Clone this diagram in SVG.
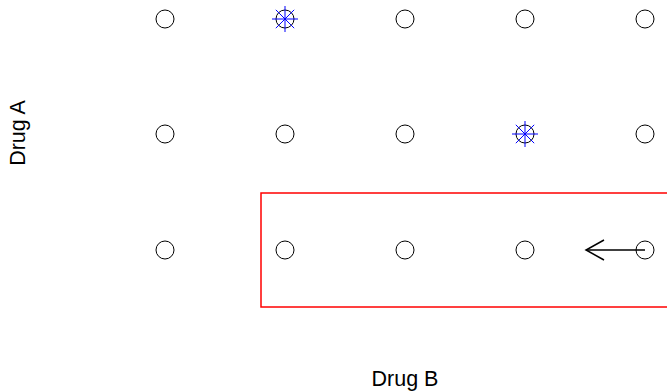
<svg xmlns="http://www.w3.org/2000/svg" width="667" height="391" viewBox="0 0 667 391">
<style>
.pt{fill:none;stroke:#000;stroke-width:1}
.st{stroke:#00f;stroke-width:1}
.lab{font-family:"Liberation Sans",Arial,sans-serif;font-size:21.5px;fill:#000;text-anchor:middle}
</style>
<defs>
<g id="star" class="st">
<line x1="-13" y1="0" x2="13" y2="0"/>
<line x1="0" y1="-13" x2="0" y2="13"/>
<line x1="-9.2" y1="-9.2" x2="9.2" y2="9.2"/>
<line x1="-9.2" y1="9.2" x2="9.2" y2="-9.2"/>
</g>
</defs>
<rect width="667" height="391" fill="#fff"/>
<g id="nodes">
<g id="n1"><circle class="pt" cx="165" cy="19" r="9"/></g>
<g id="n2"><circle class="pt" cx="285" cy="19" r="9"/><use href="#star" x="285" y="19"/></g>
<g id="n3"><circle class="pt" cx="405" cy="19" r="9"/></g>
<g id="n4"><circle class="pt" cx="525" cy="19" r="9"/></g>
<g id="n5"><circle class="pt" cx="645" cy="19" r="9"/></g>
<g id="n6"><circle class="pt" cx="165" cy="134" r="9"/></g>
<g id="n7"><circle class="pt" cx="285" cy="134" r="9"/></g>
<g id="n8"><circle class="pt" cx="405" cy="134" r="9"/></g>
<g id="n9"><circle class="pt" cx="525" cy="134" r="9"/><use href="#star" x="525" y="134"/></g>
<g id="n10"><circle class="pt" cx="645" cy="134" r="9"/></g>
<g id="n11"><circle class="pt" cx="165" cy="250" r="9"/></g>
<g id="n12"><circle class="pt" cx="285" cy="250" r="9"/></g>
<g id="n13"><circle class="pt" cx="405" cy="250" r="9"/></g>
<g id="n14"><circle class="pt" cx="525" cy="250" r="9"/></g>
<g id="n15"><circle class="pt" cx="645" cy="250" r="9"/></g>
</g>
<g id="region"><rect x="261" y="193" width="410" height="114" fill="none" stroke="#f00" stroke-width="1.5"/></g>
<g id="connectors" fill="none" stroke="#000" stroke-width="1.5">
<line x1="645" y1="250" x2="586" y2="250"/>
<polyline points="604,240 586,250 604,260"/>
</g>
<text class="lab" x="405" y="386">Drug B</text>
<text class="lab" transform="translate(25,133) rotate(-90)">Drug A</text>
</svg>
